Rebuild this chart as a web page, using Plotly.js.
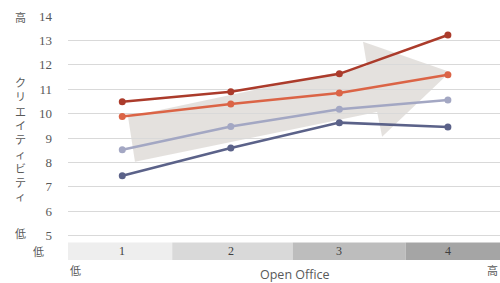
<!DOCTYPE html>
<html><head><meta charset="utf-8">
<script src="https://cdn.plot.ly/plotly-3.0.1.min.js"></script>
<style>html,body{margin:0;padding:0;background:#fff;}#chart{width:500px;height:283px;}</style>
</head><body><div id="chart"></div>
<script>
// Data
const categories = [1, 2, 3, 4];
const seriesA = [10.49, 10.90, 11.63, 13.22]; // dark red
const seriesB = [9.88, 10.39, 10.84, 11.59];  // orange
const seriesC = [8.52, 9.47, 10.18, 10.56];   // lavender
const seriesD = [7.45, 8.59, 9.63, 9.45];     // slate
const yTicks = [5, 6, 7, 8, 9, 10, 11, 12, 13, 14];
const bandLabels = ['1', '2', '3', '4'];
const bandEdges = [0.5, 1.46, 2.57, 3.61, 4.48];
const bandColors = ['#eeeeee', '#d9d9d9', '#bdbdbd', '#a5a5a5'];
const yTitleChars = ['ク','リ','エ','イ','テ','ィ','ビ','テ','ィ'];
// arrow decoration (data coords)
const arrowX = [1.053, 3.255, 3.218, 4.02, 3.394, 3.348, 1.117];
const arrowY = [9.87, 11.95, 12.94, 11.71, 9.05, 10.07, 8.03];

const colors = ['#ab3b2b', '#db6446', '#a3a7c3', '#5b6289'];
const series = [seriesA, seriesB, seriesC, seriesD];
const traces = series.map((s, i) => ({
  x: categories, y: s, type: 'scatter', mode: 'lines+markers',
  line: {color: colors[i], width: 2.5},
  marker: {color: colors[i], size: 7},
  hoverinfo: 'none', showlegend: false
}));

const shapes = [];
let path = 'M ' + arrowX.map((x, i) => x + ',' + arrowY[i]).join(' L ') + ' Z';
shapes.push({type: 'path', xref: 'x', yref: 'y', path: path,
  fillcolor: 'rgba(195,188,182,0.45)', line: {width: 0}, layer: 'below'});
for (let i = 0; i < 4; i++) {
  shapes.push({type: 'rect', xref: 'x', yref: 'y', x0: bandEdges[i], x1: bandEdges[i+1],
    y0: 4.0, y1: 4.72, fillcolor: bandColors[i], line: {width: 0}, layer: 'below'});
}

const W = 500, H = 283, ML = 68, MR = 0, MT = 16, MB = 22.6;
const PW = W - ML - MR, PH = H - MT - MB;
const px2x = px => (px - ML) / PW;
const py2y = py => (H - MB - py) / PH;

const grey = '#595959';
const cjk = '"Noto Sans CJK JP", sans-serif';
const annotations = [];
bandLabels.forEach((t, i) => annotations.push({
  x: categories[i], y: 4.36, xref: 'x', yref: 'y', text: t, showarrow: false,
  font: {family: '"Liberation Serif", serif', size: 12, color: '#404040'}
}));
const fixed = [
  {px: 20, py: 17, text: '高'},
  {px: 20, py: 233, text: '低'},
  {px: 38, py: 251, text: '低'},
  {px: 75, py: 270, text: '低'},
  {px: 492, py: 270, text: '高'}
];
fixed.forEach(f => annotations.push({
  x: px2x(f.px), y: py2y(f.py), xref: 'paper', yref: 'paper', text: f.text,
  showarrow: false, font: {family: cjk, size: 11, color: grey}, xanchor: 'center', yanchor: 'middle'
}));
annotations.push({
  x: px2x(20), y: py2y(139), xref: 'paper', yref: 'paper', text: yTitleChars.join('<br>'),
  showarrow: false, font: {family: cjk, size: 11, color: grey}, xanchor: 'center', yanchor: 'middle'
});
annotations.push({
  x: px2x(295), y: py2y(275), xref: 'paper', yref: 'paper', text: 'Open Office',
  showarrow: false, font: {family: '"Open Sans", sans-serif', size: 12.5, color: grey}, xanchor: 'center', yanchor: 'middle'
});

const layout = {
  width: W, height: H,
  margin: {l: ML, r: MR, t: MT, b: MB},
  paper_bgcolor: '#fff', plot_bgcolor: '#fff',
  xaxis: {range: [0.5, 4.48], showgrid: false, zeroline: false, showticklabels: false, ticks: '', showline: false, fixedrange: true},
  yaxis: {range: [4.0, 14.0], tickvals: yTicks, ticktext: yTicks.map(String), showgrid: true, gridcolor: '#d9d9d9', gridwidth: 1,
    zeroline: false, showline: false, ticks: '', ticklabelstandoff: 15,
    tickfont: {family: '"Liberation Serif", serif', size: 13, color: grey}, fixedrange: true},
  shapes: shapes,
  annotations: annotations
};
Plotly.newPlot('chart', traces, layout, {staticPlot: true});
</script></body></html>
